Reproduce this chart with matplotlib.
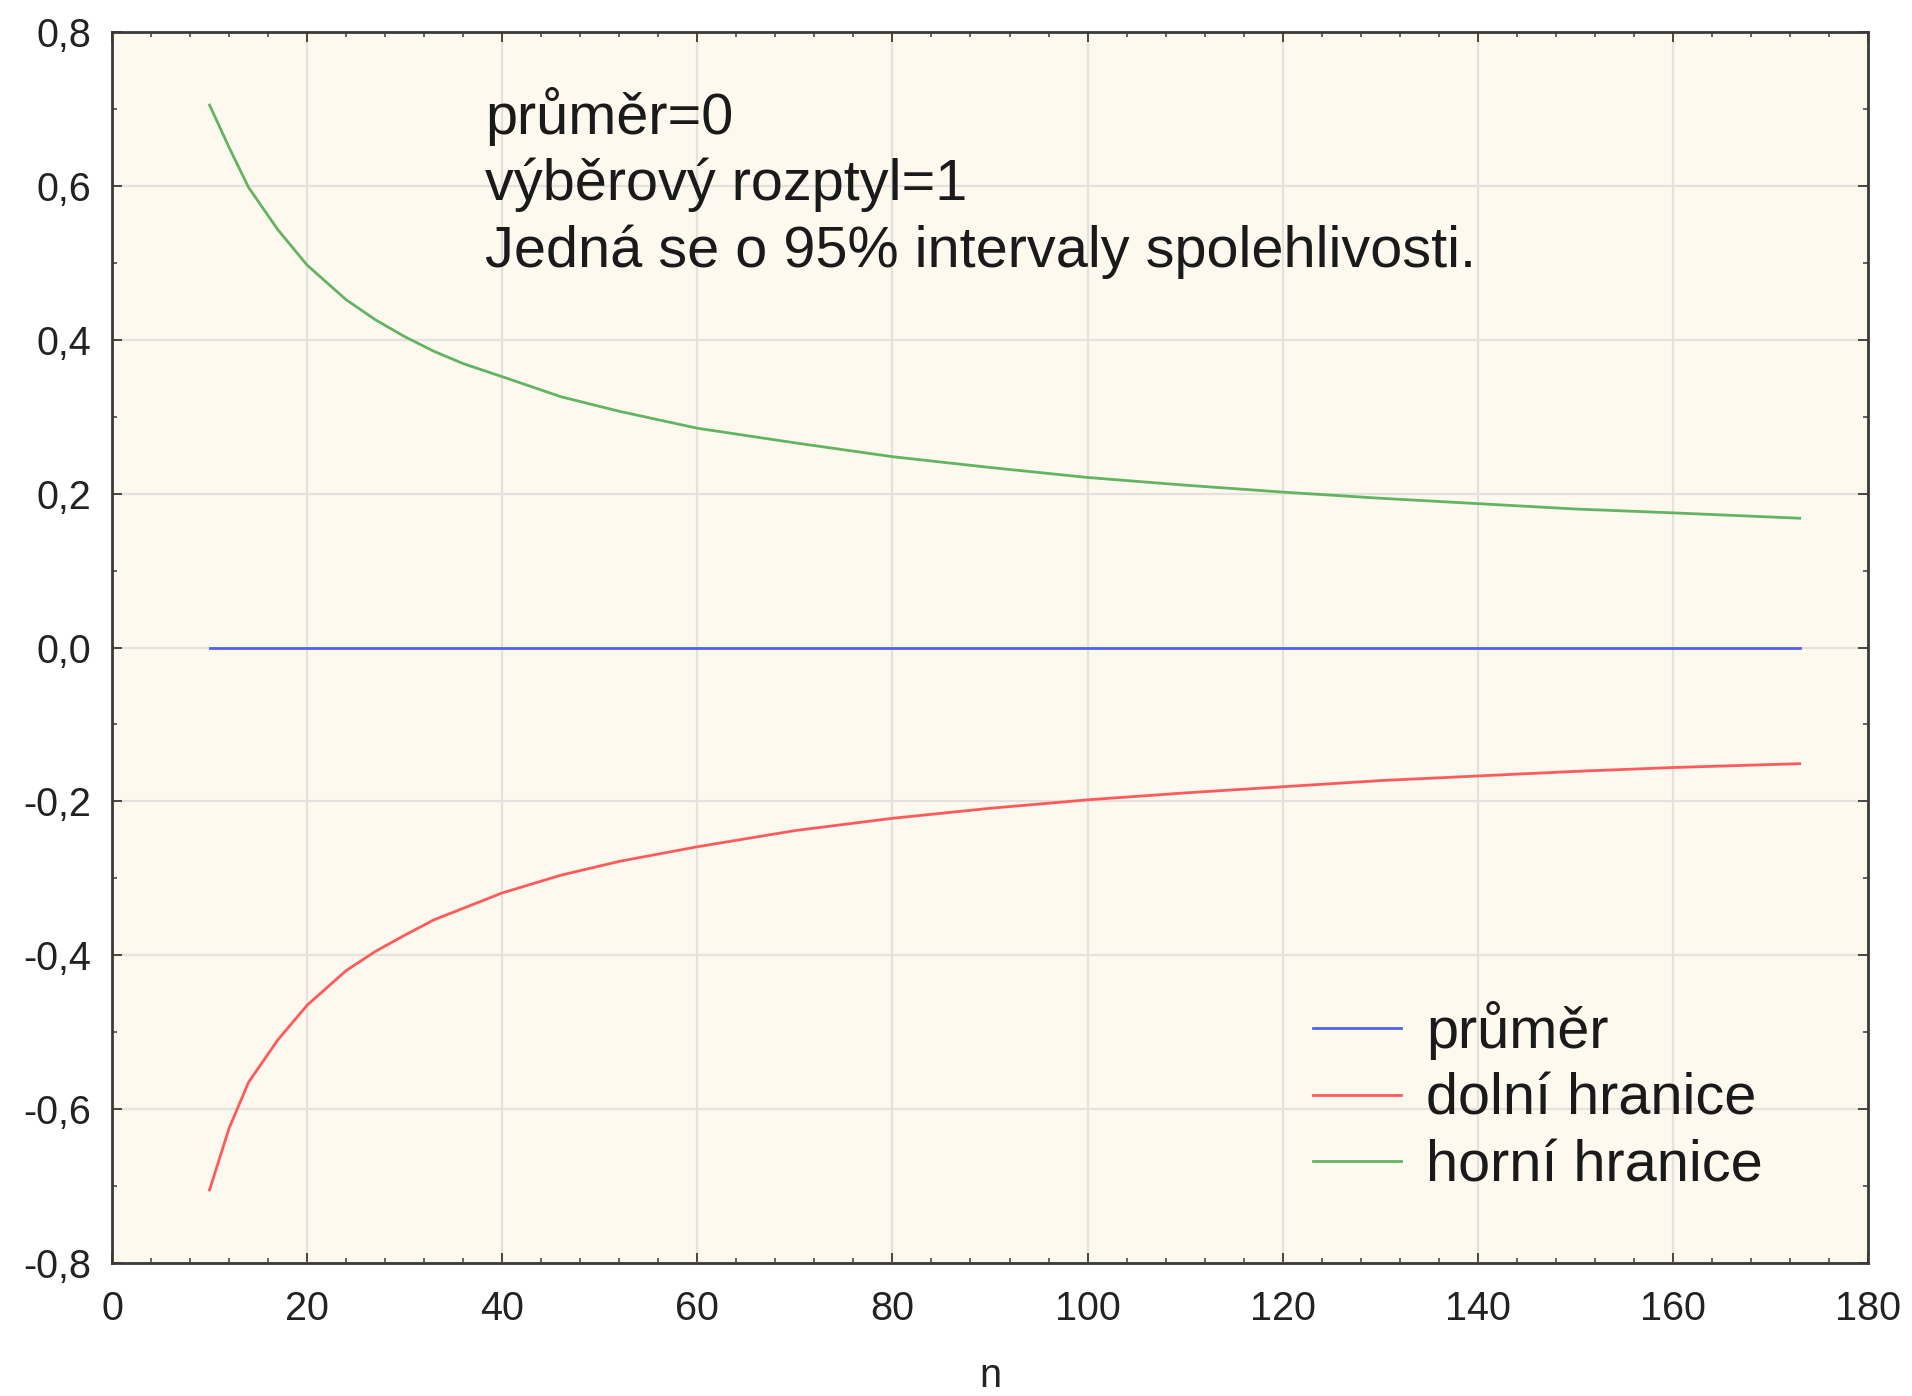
import matplotlib
matplotlib.use("Agg")
import matplotlib.pyplot as plt
from matplotlib.ticker import MultipleLocator, FuncFormatter

plt.rcParams['font.family'] = ['Liberation Sans', 'DejaVu Sans']

# data
n = [10, 12, 14, 17, 20, 24, 27, 30, 33, 36, 40, 46, 52, 60, 70, 80, 90, 100,
     110, 120, 130, 140, 150, 160, 173]
prumer = [0.0] * len(n)
dolni = [-0.705, -0.625, -0.565, -0.510, -0.465, -0.420, -0.395, -0.374, -0.354,
         -0.339, -0.319, -0.296, -0.278, -0.259, -0.238, -0.222, -0.209, -0.198,
         -0.189, -0.181, -0.173, -0.167, -0.161, -0.156, -0.151]
horni = [0.705, 0.650, 0.598, 0.543, 0.497, 0.452, 0.426, 0.404, 0.385, 0.369,
         0.352, 0.326, 0.307, 0.285, 0.266, 0.248, 0.234, 0.221, 0.211, 0.202,
         0.194, 0.187, 0.180, 0.175, 0.168]
labels = ['průměr', 'dolní hranice', 'horní hranice']
note = "průměr=0\nvýběrový rozptyl=1\nJedná se o 95% intervaly spolehlivosti."

W, H = 1912, 1396
fig = plt.figure(figsize=(W / 100, H / 100), dpi=100)
L, R, T, B = 112, 1868, 32, 1263
ax = fig.add_axes([L / W, 1 - B / H, (R - L) / W, (B - T) / H])
ax.set_facecolor('#FDF9EE')

ax.plot(n, prumer, color='#5060F8', lw=2.0, label=labels[0], zorder=3)
ax.plot(n, dolni, color='#FF5A5A', lw=2.0, label=labels[1], zorder=3)
ax.plot(n, horni, color='#62B462', lw=2.0, label=labels[2], zorder=3)

ax.set_xlim(0, 180)
ax.set_ylim(-0.8, 0.8)
ax.xaxis.set_major_locator(MultipleLocator(20))
ax.xaxis.set_minor_locator(MultipleLocator(4))
ax.yaxis.set_major_locator(MultipleLocator(0.2))
ax.yaxis.set_minor_locator(MultipleLocator(0.1))
ax.yaxis.set_major_formatter(FuncFormatter(lambda v, p: f"{v:.1f}".replace('.', ',').replace('-0,0', '0,0')))
ax.xaxis.set_major_formatter(FuncFormatter(lambda v, p: f"{v:.0f}"))

ax.grid(True, which='major', color='#E4E2DE', lw=1.6, zorder=1)
ax.set_axisbelow(True)
for s in ax.spines.values():
    s.set_color('#3A3A3A')
    s.set_linewidth(2.0)
ax.tick_params(which='both', direction='in', top=True, right=True, color='#3A3A3A')
ax.tick_params(which='major', length=7, width=1.3, labelsize=28.5, labelcolor='#222222')
ax.tick_params(axis='y', which='major', pad=15)
ax.tick_params(axis='x', which='major', pad=19.5)
ax.tick_params(which='minor', length=3.5, width=1.1)

ax.set_xlabel('n', fontsize=28.5, labelpad=21, color='#222222')

fig.text(485 / W, 1 - 183 / H, note, fontsize=41.5, va='center', ha='left',
         linespacing=1.29, color='#1A1A1A')

leg = ax.legend(loc='upper left', bbox_to_anchor=(1313 / W, 1 - 1001 / H),
                bbox_transform=fig.transFigure, frameon=False, fontsize=41.5,
                handlelength=1.53, handletextpad=0.43, labelspacing=0.22,
                borderpad=0, borderaxespad=0)
for t in leg.get_texts():
    t.set_color('#1A1A1A')

fig.savefig('out.png', dpi=100, facecolor='white')
